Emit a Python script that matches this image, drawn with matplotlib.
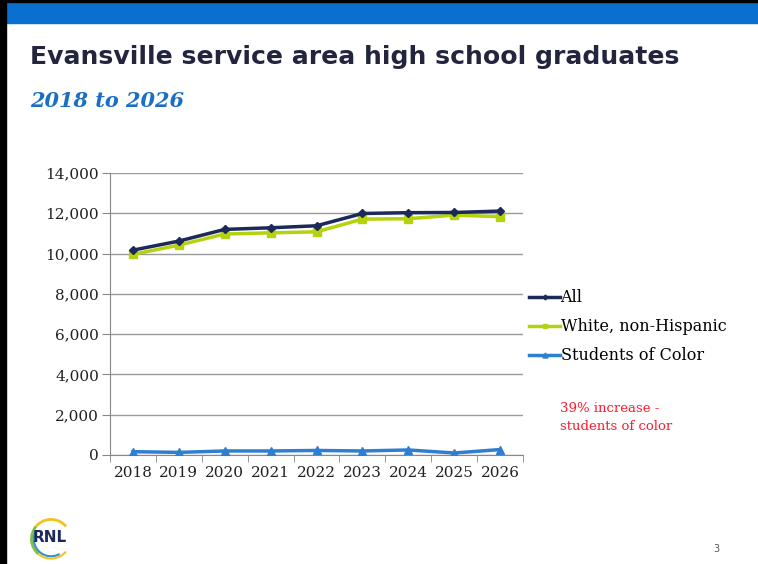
import matplotlib.pyplot as plt
from matplotlib.patches import Rectangle, Arc
from matplotlib.ticker import FuncFormatter, FixedLocator
import numpy as np

# data
years = ['2018', '2019', '2020', '2021', '2022', '2023', '2024', '2025', '2026']
all_grads = [10170, 10620, 11200, 11280, 11380, 11990, 12030, 12040, 12110]
white_grads = [9960, 10420, 10970, 11030, 11080, 11710, 11730, 11910, 11830]
color_grads = [165, 130, 200, 200, 225, 200, 250, 100, 270]

fig = plt.figure(figsize=(7.58, 5.64), dpi=100)

# slide frame: black edge on the left/top, blue band on top
fig.patches.append(Rectangle((0, 0), 6 / 758, 1, transform=fig.transFigure, color='black', zorder=5))
fig.patches.append(Rectangle((0, 1 - 2 / 564), 1, 2 / 564, transform=fig.transFigure, color='black', zorder=5))
fig.patches.append(Rectangle((0, 1 - 23 / 564), 1, 21 / 564, transform=fig.transFigure, color='#0a6fcf', zorder=4))

fig.text(30 / 758, 1 - 57 / 564, 'Evansville service area high school graduates',
         fontsize=18.1, fontweight='bold', family='DejaVu Sans', color='#23253f', va='center')
fig.text(30 / 758, 1 - 101 / 564, '2018 to 2026', fontsize=15, fontweight='bold', style='italic',
         family='DejaVu Serif', color='#1a6fc4', va='center')

ax = fig.add_axes([110 / 758, 1 - 455 / 564, 413 / 758, 282 / 564])
x = np.arange(len(years))
ax.plot(x, all_grads, color='#1b2a5a', lw=2.5, marker='D', ms=4, label='All', zorder=4)
ax.plot(x, white_grads, color='#b5d20f', lw=2.5, marker='s', ms=6, label='White, non-Hispanic', zorder=3)
ax.plot(x, color_grads, color='#2f7fd0', lw=2.5, marker='^', ms=6, label='Students of Color', zorder=3)

ax.set_xlim(-0.5, len(years) - 0.5)
ax.set_ylim(0, 14000)
ax.set_yticks(range(0, 14001, 2000))
ax.yaxis.set_major_formatter(FuncFormatter(lambda v, p: f'{int(v):,}'))
ax.set_xticks(x)
ax.set_xticklabels(years)
ax.xaxis.set_minor_locator(FixedLocator(np.arange(-0.5, len(years), 1)))
ax.tick_params(axis='x', which='major', length=0, pad=8)
ax.tick_params(axis='x', which='minor', length=5, color='#888888')
ax.tick_params(axis='y', length=6, color='#888888', pad=2)
for lab in ax.get_xticklabels() + ax.get_yticklabels():
    lab.set_family('DejaVu Serif')
    lab.set_fontsize(11)
    lab.set_color('#222222')

ax.yaxis.grid(True, color='#9a9a9a', lw=1)
ax.set_axisbelow(True)
for s in ['top', 'right']:
    ax.spines[s].set_visible(False)
ax.spines['left'].set_color('#888888')
ax.spines['bottom'].set_color('#888888')

leg = ax.legend(loc='center left', bbox_to_anchor=(1.0, 0.455), frameon=False,
                prop={'family': 'DejaVu Serif', 'size': 11.5}, handlelength=1.9,
                handletextpad=0.05, labelspacing=0.75, borderaxespad=0.0, markerscale=0.6)

fig.text(560 / 758, 1 - 418 / 564, '39% increase -\nstudents of color', color='#ff1a2e',
         fontsize=9.5, family='DejaVu Serif', va='center', linespacing=1.5)

# RNL logo
fig.text(50 / 758, 1 - 537 / 564, 'RNL', fontsize=11, fontweight='bold', color='#1b2a5a',
         family='DejaVu Sans', ha='center', va='center')
lax = fig.add_axes([28 / 758, 1 - 562 / 564, 46 / 758, 46 / 564])
lax.set_xlim(-1, 1)
lax.set_ylim(-1, 1)
lax.axis('off')
lax.add_patch(Arc((0, 0), 1.7, 1.7, theta1=40, theta2=140, color='#f3c21b', lw=2))
lax.add_patch(Arc((0, 0), 1.7, 1.7, theta1=140, theta2=230, color='#7fc241', lw=2))
lax.add_patch(Arc((0, 0), 1.5, 1.5, theta1=150, theta2=300, color='#2f8fd8', lw=1.5))
lax.add_patch(Arc((0, 0), 1.7, 1.7, theta1=230, theta2=320, color='#f3c21b', lw=1.5))

fig.text(716 / 758, 1 - 549 / 564, '3', fontsize=7, color='#555555', ha='center', va='center')

fig.savefig('out.png', dpi=100)
